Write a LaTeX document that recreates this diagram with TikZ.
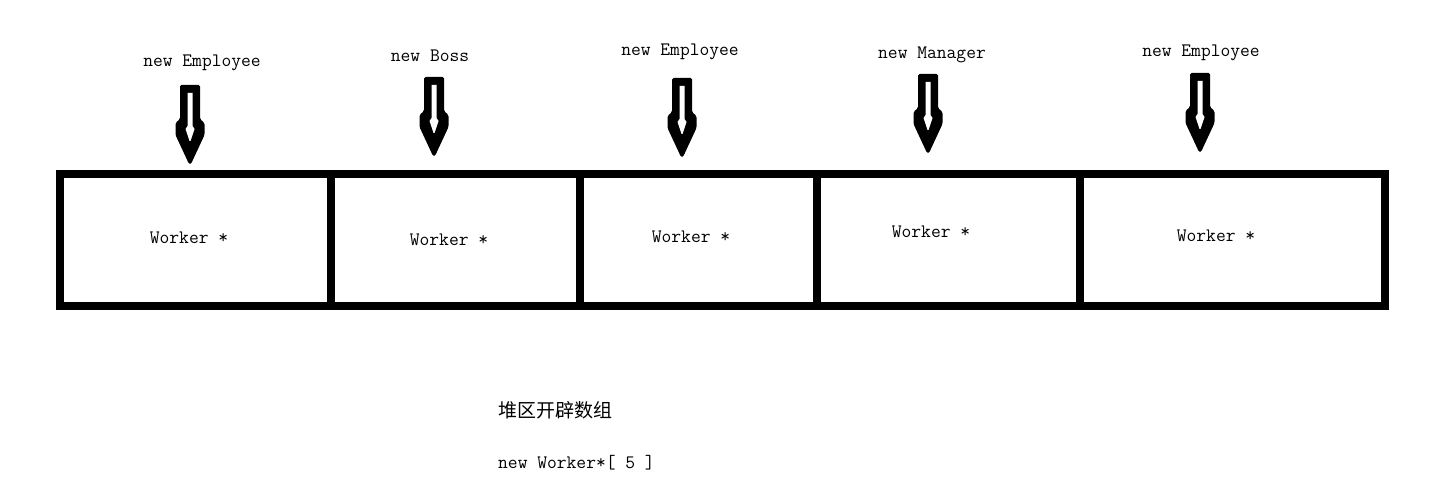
\documentclass[tikz,border=0pt]{standalone}
\usepackage{fontspec}
\newfontfamily\cjk{Noto Sans CJK SC}
\begin{document}
\begin{tikzpicture}[x=1pt,y=-1pt,
  cellbox/.style={draw=black, line width=8pt, minimum height=132pt, inner sep=0pt, outer sep=0pt, anchor=north west},
  lbl/.style={font=\ttfamily\fontsize{19}{21}\selectfont, inner sep=0pt},
  cjklbl/.style={font=\cjk\fontsize{19}{21}\selectfont, inner sep=0pt},
  blockarrow/.pic={
    \fill[black, rounded corners=1.5pt]
      (-10,0) -- (10,0) -- (10,34) -- (14.5,38) -- (14.5,50) -- (1,79) -- (-1,79)
      -- (-14.5,50) -- (-14.5,38) -- (-10,34) -- cycle;
    \fill[white]
      (-2.5,8) -- (2.5,8) -- (2.5,41) -- (4.5,44) -- (0.5,56) -- (-0.5,56)
      -- (-4.5,44) -- (-2.5,41) -- cycle;
  }]
\useasboundingbox (0,0) rectangle (1453,494);
\fill[white] (0,0) rectangle (1453,494);

% cells
\node[cellbox, minimum width=271pt] (c1) at (60,174) {};
\node[cellbox, minimum width=248.5pt] (c2) at (331,174) {};
\node[cellbox, minimum width=237.5pt] (c3) at (579.5,174) {};
\node[cellbox, minimum width=263pt] (c4) at (817,174) {};
\node[cellbox, minimum width=305pt] (c5) at (1080,174) {};

% cell texts
\node[lbl] (w1) at (189,238) {Worker *};
\node[lbl] (w2) at (449,240) {Worker *};
\node[lbl] (w3) at (691,237) {Worker *};
\node[lbl] (w4) at (931,232) {Worker *};
\node[lbl] (w5) at (1216,236) {Worker *};

% top labels
\node[lbl] (l1) at (202,63) {new Employee};
\node[lbl] (l2) at (430,56) {new Boss};
\node[lbl] (l3) at (680,52) {new Employee};
\node[lbl] (l4) at (932,55) {new Manager};
\node[lbl] (l5) at (1201,53) {new Employee};

% block arrows
\pic at (190,85) {blockarrow};
\pic at (434,77) {blockarrow};
\pic at (682,78) {blockarrow};
\pic at (928,74) {blockarrow};
\pic at (1200,73) {blockarrow};

% bottom texts
\node[cjklbl, anchor=west] (t1) at (498,410) {堆区开辟数组};
\node[lbl, anchor=west] (t2) at (498,463) {new Worker*[ 5 ]};
\end{tikzpicture}
\end{document}
